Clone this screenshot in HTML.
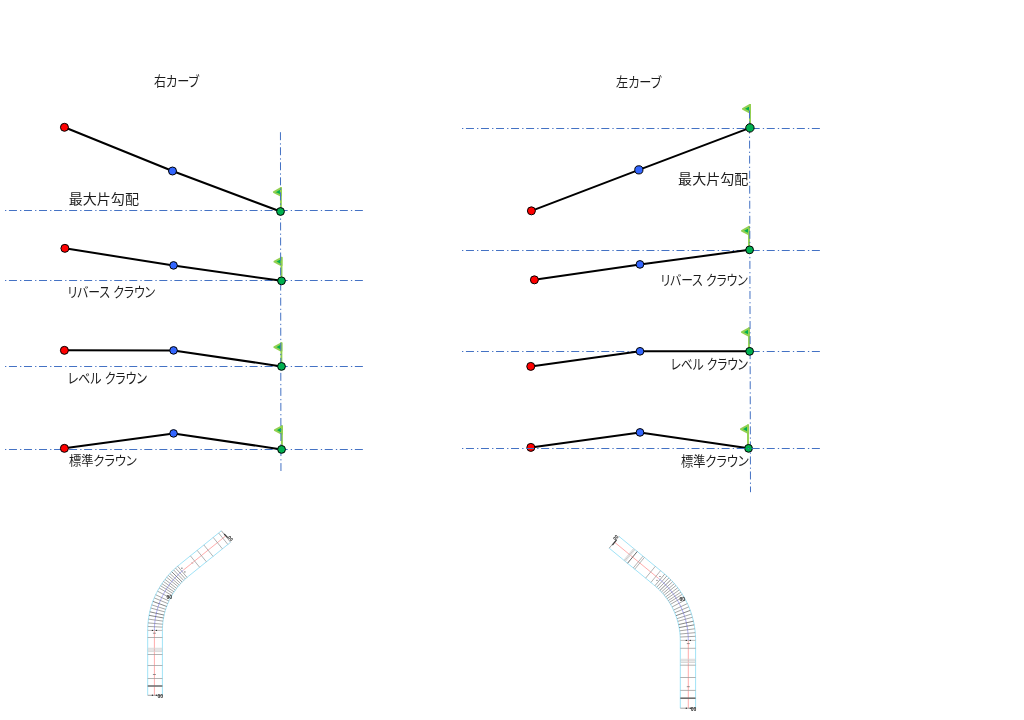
<!DOCTYPE html>
<html><head><meta charset="utf-8"><style>
html,body{margin:0;padding:0;background:#fff;width:1024px;height:720px;overflow:hidden}
svg{display:block}
text{font-family:"Liberation Sans","Noto Sans CJK JP",sans-serif;fill:#1c1c1c;font-feature-settings:"palt"}
</style></head><body>
<svg width="1024" height="720" viewBox="0 0 1024 720">
<rect width="1024" height="720" fill="#fff"/>
<text x="153.9" y="85.74" font-size="13.08" textLength="45.19" lengthAdjust="spacingAndGlyphs">右カーブ</text>
<text x="616.08" y="86.94" font-size="13.51" textLength="45.15" lengthAdjust="spacingAndGlyphs">左カーブ</text>
<text x="68.72" y="203.52" font-size="13.14" textLength="70.22" lengthAdjust="spacingAndGlyphs">最大片勾配</text>
<text x="67.52" y="296.88" font-size="13.93" textLength="87.68" lengthAdjust="spacingAndGlyphs">リバース クラウン</text>
<text x="67.7" y="382.62" font-size="14.03" textLength="79.35" lengthAdjust="spacingAndGlyphs">レベル クラウン</text>
<text x="68.9" y="465.2" font-size="12.8" textLength="67.95" lengthAdjust="spacingAndGlyphs">標準クラウン</text>
<text x="678.08" y="183.52" font-size="13.14" textLength="70.24" lengthAdjust="spacingAndGlyphs">最大片勾配</text>
<text x="660.52" y="285.4" font-size="13.79" textLength="87.21" lengthAdjust="spacingAndGlyphs">リバース クラウン</text>
<text x="670.8" y="368.98" font-size="14.17" textLength="77.23" lengthAdjust="spacingAndGlyphs">レベル クラウン</text>
<text x="681.0" y="465.74" font-size="13.24" textLength="67.92" lengthAdjust="spacingAndGlyphs">標準クラウン</text>
<line x1="5" y1="210.5" x2="363" y2="210.5" stroke="#4472c4" stroke-width="1" stroke-dasharray="8.0 3.1 1.3 2.64" stroke-dashoffset="11.1"/>
<line x1="5" y1="280.5" x2="363" y2="280.5" stroke="#4472c4" stroke-width="1" stroke-dasharray="8.0 3.1 1.3 2.64" stroke-dashoffset="11.1"/>
<line x1="5" y1="366.5" x2="363" y2="366.5" stroke="#4472c4" stroke-width="1" stroke-dasharray="8.0 3.1 1.3 2.64" stroke-dashoffset="11.1"/>
<line x1="5" y1="449.5" x2="363" y2="449.5" stroke="#4472c4" stroke-width="1" stroke-dasharray="8.0 3.1 1.3 2.64" stroke-dashoffset="11.1"/>
<polyline points="64.45,127.3 172.5,171 280.5,211.5" fill="none" stroke="#000" stroke-width="2" stroke-linejoin="round"/>
<polyline points="64.9,248.35 173.55,265.4 281.5,280.85" fill="none" stroke="#000" stroke-width="2" stroke-linejoin="round"/>
<polyline points="64.4,350.35 173.55,350.4 281.5,366.4" fill="none" stroke="#000" stroke-width="2" stroke-linejoin="round"/>
<polyline points="64.4,448.35 173.55,433.4 281.55,449.4" fill="none" stroke="#000" stroke-width="2" stroke-linejoin="round"/>
<line x1="280.9" y1="187.25" x2="280.9" y2="208.5" stroke="#92d050" stroke-width="1.9"/>
<polygon points="280.9,188.1 273.9,192.05 280.9,195.65" fill="#00b050" stroke="#92d050" stroke-width="2" stroke-linejoin="round"/>
<line x1="281.5" y1="256.9" x2="281.5" y2="277.85" stroke="#92d050" stroke-width="1.9"/>
<polygon points="281.5,257.75 274.5,261.7 281.5,265.29999999999995" fill="#00b050" stroke="#92d050" stroke-width="2" stroke-linejoin="round"/>
<line x1="281.4" y1="342.4" x2="281.4" y2="363.4" stroke="#92d050" stroke-width="1.9"/>
<polygon points="281.4,343.25 274.4,347.2 281.4,350.79999999999995" fill="#00b050" stroke="#92d050" stroke-width="2" stroke-linejoin="round"/>
<line x1="281.9" y1="425.4" x2="281.9" y2="446.4" stroke="#92d050" stroke-width="1.9"/>
<polygon points="281.9,426.25 274.9,430.2 281.9,433.79999999999995" fill="#00b050" stroke="#92d050" stroke-width="2" stroke-linejoin="round"/>
<line x1="280.45" y1="132.2" x2="280.95" y2="471" stroke="#4472c4" stroke-width="1" stroke-dasharray="8.0 3.1 1.3 2.64" stroke-dashoffset="0"/>
<circle cx="64.45" cy="127.3" r="4.0" fill="#ff0000" stroke="#000" stroke-width="1"/>
<circle cx="172.5" cy="171" r="4.0" fill="#3366ff" stroke="#000" stroke-width="1"/>
<circle cx="280.5" cy="211.5" r="3.9" fill="#00b050" stroke="#000" stroke-width="1"/>
<circle cx="64.9" cy="248.35" r="4.0" fill="#ff0000" stroke="#000" stroke-width="1"/>
<circle cx="173.55" cy="265.4" r="3.8" fill="#3366ff" stroke="#000" stroke-width="1"/>
<circle cx="281.5" cy="280.85" r="3.9" fill="#00b050" stroke="#000" stroke-width="1"/>
<circle cx="64.4" cy="350.35" r="4.0" fill="#ff0000" stroke="#000" stroke-width="1"/>
<circle cx="173.55" cy="350.4" r="3.8" fill="#3366ff" stroke="#000" stroke-width="1"/>
<circle cx="281.5" cy="366.4" r="3.9" fill="#00b050" stroke="#000" stroke-width="1"/>
<circle cx="64.4" cy="448.35" r="4.0" fill="#ff0000" stroke="#000" stroke-width="1"/>
<circle cx="173.55" cy="433.4" r="3.8" fill="#3366ff" stroke="#000" stroke-width="1"/>
<circle cx="281.55" cy="449.4" r="3.9" fill="#00b050" stroke="#000" stroke-width="1"/>
<line x1="462" y1="128.5" x2="820" y2="128.5" stroke="#4472c4" stroke-width="1" stroke-dasharray="8.0 3.1 1.3 2.64" stroke-dashoffset="11.1"/>
<line x1="462" y1="250.5" x2="820" y2="250.5" stroke="#4472c4" stroke-width="1" stroke-dasharray="8.0 3.1 1.3 2.64" stroke-dashoffset="11.1"/>
<line x1="462" y1="351.5" x2="820" y2="351.5" stroke="#4472c4" stroke-width="1" stroke-dasharray="8.0 3.1 1.3 2.64" stroke-dashoffset="11.1"/>
<polyline points="531.4,210.85 638.85,169.85 749.9,127.9" fill="none" stroke="#000" stroke-width="2" stroke-linejoin="round"/>
<polyline points="534.4,279.85 639.95,264.4 749.6,249.85" fill="none" stroke="#000" stroke-width="2" stroke-linejoin="round"/>
<polyline points="530.75,366.4 640,351.3 749.6,351.35" fill="none" stroke="#000" stroke-width="2" stroke-linejoin="round"/>
<polyline points="530.85,447.4 640,432.4 748.55,448.35" fill="none" stroke="#000" stroke-width="2" stroke-linejoin="round"/>
<line x1="750.0" y1="104.1" x2="750.0" y2="124.9" stroke="#92d050" stroke-width="1.9"/>
<polygon points="750.0,104.94999999999999 743.0,108.89999999999999 750.0,112.5" fill="#00b050" stroke="#92d050" stroke-width="2" stroke-linejoin="round"/>
<line x1="749.0" y1="226.0" x2="749.0" y2="246.85" stroke="#92d050" stroke-width="1.9"/>
<polygon points="749.0,226.85 742.0,230.8 749.0,234.4" fill="#00b050" stroke="#92d050" stroke-width="2" stroke-linejoin="round"/>
<line x1="749.0" y1="327.4" x2="749.0" y2="348.35" stroke="#92d050" stroke-width="1.9"/>
<polygon points="749.0,328.25 742.0,332.2 749.0,335.79999999999995" fill="#00b050" stroke="#92d050" stroke-width="2" stroke-linejoin="round"/>
<line x1="748.0" y1="424.4" x2="748.0" y2="445.35" stroke="#92d050" stroke-width="1.9"/>
<polygon points="748.0,425.25 741.0,429.2 748.0,432.79999999999995" fill="#00b050" stroke="#92d050" stroke-width="2" stroke-linejoin="round"/>
<line x1="749.5" y1="110.5" x2="750.5" y2="492.2" stroke="#4472c4" stroke-width="1" stroke-dasharray="8.0 3.1 1.3 2.64" stroke-dashoffset="0"/>
<circle cx="531.4" cy="210.85" r="4.0" fill="#ff0000" stroke="#000" stroke-width="1"/>
<circle cx="638.85" cy="169.85" r="4.1" fill="#3366ff" stroke="#000" stroke-width="1"/>
<circle cx="749.9" cy="127.9" r="4.2" fill="#00b050" stroke="#000" stroke-width="1"/>
<circle cx="534.4" cy="279.85" r="4.0" fill="#ff0000" stroke="#000" stroke-width="1"/>
<circle cx="639.95" cy="264.4" r="3.85" fill="#3366ff" stroke="#000" stroke-width="1"/>
<circle cx="749.6" cy="249.85" r="3.9" fill="#00b050" stroke="#000" stroke-width="1"/>
<circle cx="530.75" cy="366.4" r="4.0" fill="#ff0000" stroke="#000" stroke-width="1"/>
<circle cx="640" cy="351.3" r="3.85" fill="#3366ff" stroke="#000" stroke-width="1"/>
<circle cx="749.6" cy="351.35" r="3.9" fill="#00b050" stroke="#000" stroke-width="1"/>
<circle cx="530.85" cy="447.4" r="4.0" fill="#ff0000" stroke="#000" stroke-width="1"/>
<circle cx="640" cy="432.4" r="3.85" fill="#3366ff" stroke="#000" stroke-width="1"/>
<circle cx="748.55" cy="448.35" r="3.9" fill="#00b050" stroke="#000" stroke-width="1"/>
<line x1="462" y1="448.5" x2="820" y2="448.5" stroke="#4472c4" stroke-width="1" stroke-dasharray="8.0 3.1 1.3 2.64" stroke-dashoffset="11.1"/>
<polyline points="154.40,695.30 154.40,630.40" fill="none" stroke="#ffacac" stroke-width="1"/>
<polyline points="154.40,630.40 154.42,628.67 154.48,626.94 154.57,625.21 154.71,623.49 154.88,621.77 155.10,620.05 155.35,618.34 155.64,616.63 155.97,614.93 156.33,613.24 156.73,611.56 157.18,609.88 157.65,608.22 158.17,606.57 158.72,604.93 159.31,603.30 159.94,601.69 160.60,600.09 161.30,598.51 162.03,596.94 162.80,595.39 163.60,593.86 164.43,592.34 165.30,590.84 166.21,589.37 167.14,587.91 168.11,586.48 169.11,585.07 170.14,583.68 171.21,582.31 172.30,580.97 173.42,579.65 174.57,578.36 175.75,577.10 176.96,575.86 178.20,574.65 179.46,573.47 180.75,572.31 182.07,571.19 183.40,570.09" fill="none" stroke="#a9a9f8" stroke-width="1"/>
<polyline points="183.40,570.09 225.60,536.00" fill="none" stroke="#ffacac" stroke-width="1"/>
<polyline points="147.70,695.30 147.70,630.40 147.72,628.52 147.78,626.64 147.89,624.76 148.04,622.89 148.23,621.02 148.46,619.15 148.73,617.29 149.05,615.44 149.40,613.59 149.80,611.75 150.24,609.92 150.72,608.10 151.24,606.30 151.80,604.50 152.40,602.72 153.04,600.95 153.72,599.20 154.44,597.46 155.19,595.74 155.99,594.04 156.82,592.35 157.70,590.68 158.60,589.04 159.55,587.41 160.53,585.81 161.55,584.23 162.60,582.67 163.69,581.13 164.81,579.62 165.96,578.14 167.15,576.68 168.37,575.25 169.62,573.85 170.91,572.47 172.22,571.13 173.56,569.81 174.94,568.53 176.34,567.27 177.77,566.05 179.22,564.86 221.39,530.79" fill="none" stroke="#a0e3f7" stroke-width="1"/>
<polyline points="162.40,695.30 162.40,630.40 162.42,628.85 162.47,627.30 162.56,625.75 162.68,624.20 162.83,622.66 163.02,621.12 163.25,619.59 163.51,618.06 163.80,616.53 164.13,615.02 164.49,613.51 164.89,612.01 165.32,610.52 165.78,609.04 166.27,607.57 166.80,606.11 167.36,604.67 167.96,603.23 168.58,601.81 169.24,600.41 169.93,599.02 170.64,597.64 171.39,596.28 172.17,594.94 172.98,593.62 173.82,592.32 174.69,591.03 175.59,589.77 176.51,588.52 177.46,587.30 178.44,586.09 179.45,584.91 180.48,583.76 181.54,582.62 182.62,581.51 183.73,580.43 184.86,579.37 186.02,578.33 187.20,577.32 188.40,576.34 230.63,542.22" fill="none" stroke="#a0e3f7" stroke-width="1"/>
<line x1="147.70" y1="686.00" x2="162.40" y2="686.00" stroke="#707070" stroke-width="1.6"/><line x1="147.70" y1="678.50" x2="162.40" y2="678.50" stroke="#9a9a9a" stroke-width="0.75"/><line x1="147.70" y1="665.50" x2="162.40" y2="665.50" stroke="#9a9a9a" stroke-width="0.75"/><line x1="147.70" y1="654.50" x2="162.40" y2="654.50" stroke="#9a9a9a" stroke-width="0.75"/><line x1="147.70" y1="651.60" x2="162.40" y2="651.60" stroke="#cfcfcf" stroke-width="0.8"/><line x1="147.70" y1="650.00" x2="162.40" y2="650.00" stroke="#bdbdbd" stroke-width="0.8"/><line x1="147.70" y1="648.30" x2="162.40" y2="648.30" stroke="#cfcfcf" stroke-width="0.8"/><line x1="147.70" y1="637.50" x2="162.40" y2="637.50" stroke="#9a9a9a" stroke-width="0.75"/><line x1="152.90" y1="674.50" x2="155.90" y2="674.50" stroke="#777" stroke-width="0.8"/><line x1="152.90" y1="633.20" x2="155.90" y2="633.20" stroke="#777" stroke-width="0.8"/><line x1="147.70" y1="630.40" x2="162.40" y2="630.40" stroke="#aaa" stroke-width="0.8"/><line x1="190.40" y1="555.83" x2="199.63" y2="567.26" stroke="#9a9a9a" stroke-width="0.75"/><line x1="197.16" y1="550.36" x2="206.40" y2="561.80" stroke="#9a9a9a" stroke-width="0.75"/><line x1="203.85" y1="544.96" x2="213.09" y2="556.39" stroke="#9a9a9a" stroke-width="0.75"/><line x1="213.19" y1="537.42" x2="222.42" y2="548.85" stroke="#9a9a9a" stroke-width="0.75"/><line x1="218.63" y1="533.02" x2="227.87" y2="544.45" stroke="#9a9a9a" stroke-width="0.75"/><line x1="191.52" y1="561.99" x2="193.03" y2="563.86" stroke="#999" stroke-width="0.6"/><line x1="147.79" y1="626.43" x2="162.48" y2="627.13" stroke="#888888" stroke-width="0.75"/><line x1="148.04" y1="622.90" x2="162.68" y2="624.21" stroke="#888888" stroke-width="0.75"/><line x1="148.46" y1="619.15" x2="163.02" y2="621.12" stroke="#888888" stroke-width="0.75"/><line x1="149.06" y1="615.34" x2="163.52" y2="617.98" stroke="#5e5e5e" stroke-width="0.75"/><line x1="149.79" y1="611.81" x2="164.12" y2="615.07" stroke="#5e5e5e" stroke-width="0.75"/><line x1="150.74" y1="608.01" x2="164.91" y2="611.94" stroke="#888888" stroke-width="0.75"/><line x1="151.68" y1="604.86" x2="165.68" y2="609.33" stroke="#888888" stroke-width="0.75"/><line x1="152.88" y1="601.38" x2="166.67" y2="606.46" stroke="#5e5e5e" stroke-width="0.75"/><line x1="154.25" y1="597.90" x2="167.80" y2="603.59" stroke="#888888" stroke-width="0.75"/><line x1="155.65" y1="594.75" x2="168.96" y2="601.00" stroke="#888888" stroke-width="0.75"/><line x1="157.46" y1="591.13" x2="170.45" y2="598.01" stroke="#888888" stroke-width="0.75"/><line x1="159.20" y1="588.00" x2="171.89" y2="595.43" stroke="#888888" stroke-width="0.75"/><line x1="160.58" y1="585.73" x2="173.02" y2="593.56" stroke="#888888" stroke-width="0.75"/><line x1="161.92" y1="583.67" x2="174.12" y2="591.86" stroke="#888888" stroke-width="0.75"/><line x1="163.44" y1="581.48" x2="175.38" y2="590.05" stroke="#888888" stroke-width="0.75"/><line x1="164.97" y1="579.42" x2="176.64" y2="588.35" stroke="#888888" stroke-width="0.75"/><line x1="166.67" y1="577.26" x2="178.05" y2="586.57" stroke="#888888" stroke-width="0.75"/><line x1="168.23" y1="575.42" x2="179.33" y2="585.05" stroke="#888888" stroke-width="0.75"/><line x1="169.89" y1="573.55" x2="180.71" y2="583.51" stroke="#888888" stroke-width="0.75"/><line x1="171.66" y1="571.69" x2="182.16" y2="581.98" stroke="#5e5e5e" stroke-width="0.75"/><line x1="173.52" y1="569.85" x2="183.70" y2="580.46" stroke="#888888" stroke-width="0.75"/><line x1="175.50" y1="568.02" x2="185.33" y2="578.95" stroke="#888888" stroke-width="0.75"/><line x1="177.59" y1="566.20" x2="187.05" y2="577.45" stroke="#888888" stroke-width="0.75"/>
<line x1="147.70" y1="695.30" x2="162.40" y2="695.30" stroke="#8c8c8c" stroke-width="0.8"/>
<line x1="221.39" y1="530.79" x2="230.63" y2="542.22" stroke="#8c8c8c" stroke-width="0.8"/>
<circle cx="152.40" cy="695.30" r="0.7" fill="#333"/>
<circle cx="156.40" cy="695.30" r="0.7" fill="#333"/>
<circle cx="152.40" cy="630.40" r="0.7" fill="#333"/>
<circle cx="156.40" cy="630.40" r="0.7" fill="#333"/>
<circle cx="181.91" cy="568.22" r="0.6" fill="#444"/>
<circle cx="184.90" cy="571.97" r="0.6" fill="#444"/>
<polyline points="688.30,708.20 688.30,640.40" fill="none" stroke="#ffacac" stroke-width="1"/>
<polyline points="688.30,640.40 688.28,638.62 688.22,636.84 688.12,635.07 687.98,633.29 687.80,631.52 687.58,629.76 687.33,628.00 687.03,626.24 686.69,624.50 686.32,622.76 685.90,621.03 685.45,619.31 684.96,617.60 684.43,615.90 683.86,614.21 683.25,612.54 682.61,610.88 681.93,609.24 681.21,607.61 680.46,606.00 679.67,604.40 678.85,602.83 677.99,601.27 677.09,599.73 676.17,598.21 675.20,596.72 674.21,595.24 673.18,593.79 672.12,592.36 671.03,590.96 669.91,589.58 668.75,588.23 667.57,586.90 666.35,585.60 665.11,584.32 663.84,583.08 662.54,581.86 661.22,580.67 659.87,579.52 658.49,578.39" fill="none" stroke="#a9a9f8" stroke-width="1"/>
<polyline points="658.49,578.39 614.30,542.00" fill="none" stroke="#ffacac" stroke-width="1"/>
<polyline points="680.30,708.20 680.30,640.40 680.28,638.80 680.23,637.20 680.14,635.60 680.01,634.01 679.85,632.42 679.66,630.83 679.42,629.25 679.16,627.67 678.85,626.10 678.52,624.54 678.14,622.98 677.73,621.43 677.29,619.90 676.82,618.37 676.31,616.85 675.76,615.35 675.18,613.86 674.57,612.38 673.93,610.91 673.25,609.46 672.54,608.03 671.80,606.61 671.03,605.21 670.22,603.83 669.39,602.46 668.52,601.12 667.63,599.79 666.70,598.49 665.75,597.20 664.77,595.94 663.76,594.70 662.72,593.48 661.66,592.29 660.57,591.12 659.45,589.97 658.31,588.85 657.14,587.76 655.95,586.69 654.73,585.65 653.49,584.64 609.21,548.18" fill="none" stroke="#a0e3f7" stroke-width="1"/>
<polyline points="695.60,708.20 695.60,640.40 695.58,638.46 695.51,636.52 695.40,634.58 695.25,632.64 695.06,630.71 694.82,628.78 694.54,626.86 694.21,624.94 693.84,623.04 693.43,621.14 692.98,619.25 692.49,617.37 691.95,615.50 691.37,613.65 690.75,611.81 690.09,609.98 689.39,608.17 688.64,606.37 687.86,604.60 687.04,602.84 686.18,601.09 685.28,599.37 684.34,597.67 683.36,595.99 682.35,594.34 681.30,592.70 680.21,591.09 679.09,589.51 677.93,587.95 676.74,586.41 675.51,584.91 674.25,583.43 672.96,581.98 671.64,580.56 670.28,579.17 668.89,577.81 667.48,576.48 666.03,575.18 664.55,573.92 663.05,572.69 618.94,536.36" fill="none" stroke="#a0e3f7" stroke-width="1"/>
<line x1="680.30" y1="698.20" x2="695.60" y2="698.20" stroke="#707070" stroke-width="1.6"/><line x1="680.30" y1="690.40" x2="695.60" y2="690.40" stroke="#9a9a9a" stroke-width="0.75"/><line x1="680.30" y1="677.50" x2="695.60" y2="677.50" stroke="#9a9a9a" stroke-width="0.75"/><line x1="680.30" y1="665.20" x2="695.60" y2="665.20" stroke="#9a9a9a" stroke-width="0.75"/><line x1="680.30" y1="662.50" x2="695.60" y2="662.50" stroke="#cfcfcf" stroke-width="0.8"/><line x1="680.30" y1="660.90" x2="695.60" y2="660.90" stroke="#bdbdbd" stroke-width="0.8"/><line x1="680.30" y1="659.30" x2="695.60" y2="659.30" stroke="#cfcfcf" stroke-width="0.8"/><line x1="680.30" y1="648.30" x2="695.60" y2="648.30" stroke="#9a9a9a" stroke-width="0.75"/><line x1="686.80" y1="686.70" x2="689.80" y2="686.70" stroke="#777" stroke-width="0.8"/><line x1="686.80" y1="643.60" x2="689.80" y2="643.60" stroke="#777" stroke-width="0.8"/><line x1="680.30" y1="640.40" x2="695.60" y2="640.40" stroke="#aaa" stroke-width="0.8"/><line x1="650.86" y1="582.47" x2="660.58" y2="570.66" stroke="#9a9a9a" stroke-width="0.75"/><line x1="645.61" y1="578.15" x2="655.33" y2="566.33" stroke="#9a9a9a" stroke-width="0.75"/><line x1="634.72" y1="569.18" x2="644.45" y2="557.37" stroke="#9a9a9a" stroke-width="0.75"/><line x1="633.26" y1="567.97" x2="642.98" y2="556.16" stroke="#9a9a9a" stroke-width="0.75"/><line x1="627.54" y1="563.27" x2="637.27" y2="551.46" stroke="#6a6a6a" stroke-width="1.0"/><line x1="625.38" y1="561.49" x2="635.11" y2="549.68" stroke="#cfcfcf" stroke-width="0.8"/><line x1="624.61" y1="560.85" x2="634.34" y2="549.04" stroke="#bdbdbd" stroke-width="0.8"/><line x1="623.84" y1="560.22" x2="633.57" y2="548.41" stroke="#cfcfcf" stroke-width="0.8"/><line x1="680.22" y1="637.03" x2="695.50" y2="636.30" stroke="#888888" stroke-width="0.75"/><line x1="680.01" y1="634.02" x2="695.25" y2="632.65" stroke="#888888" stroke-width="0.75"/><line x1="679.66" y1="630.83" x2="694.82" y2="628.78" stroke="#888888" stroke-width="0.75"/><line x1="679.14" y1="627.59" x2="694.19" y2="624.85" stroke="#5e5e5e" stroke-width="0.75"/><line x1="678.53" y1="624.58" x2="693.45" y2="621.20" stroke="#5e5e5e" stroke-width="0.75"/><line x1="677.71" y1="621.36" x2="692.46" y2="617.28" stroke="#888888" stroke-width="0.75"/><line x1="676.91" y1="618.67" x2="691.49" y2="614.02" stroke="#888888" stroke-width="0.75"/><line x1="675.89" y1="615.71" x2="690.25" y2="610.42" stroke="#5e5e5e" stroke-width="0.75"/><line x1="674.73" y1="612.75" x2="688.84" y2="606.83" stroke="#888888" stroke-width="0.75"/><line x1="673.54" y1="610.07" x2="687.39" y2="603.57" stroke="#888888" stroke-width="0.75"/><line x1="672.00" y1="607.00" x2="685.53" y2="599.84" stroke="#888888" stroke-width="0.75"/><line x1="670.52" y1="604.33" x2="683.72" y2="596.60" stroke="#888888" stroke-width="0.75"/><line x1="669.35" y1="602.40" x2="682.30" y2="594.26" stroke="#888888" stroke-width="0.75"/><line x1="668.21" y1="600.65" x2="680.92" y2="592.13" stroke="#888888" stroke-width="0.75"/><line x1="666.92" y1="598.78" x2="679.35" y2="589.86" stroke="#888888" stroke-width="0.75"/><line x1="665.62" y1="597.03" x2="677.77" y2="587.73" stroke="#888888" stroke-width="0.75"/><line x1="664.17" y1="595.19" x2="676.01" y2="585.51" stroke="#888888" stroke-width="0.75"/><line x1="662.84" y1="593.62" x2="674.40" y2="583.60" stroke="#888888" stroke-width="0.75"/><line x1="661.43" y1="592.04" x2="672.68" y2="581.67" stroke="#888888" stroke-width="0.75"/><line x1="659.92" y1="590.46" x2="670.86" y2="579.75" stroke="#5e5e5e" stroke-width="0.75"/><line x1="658.34" y1="588.89" x2="668.94" y2="577.85" stroke="#888888" stroke-width="0.75"/><line x1="656.66" y1="587.33" x2="666.90" y2="575.95" stroke="#888888" stroke-width="0.75"/><line x1="654.88" y1="585.78" x2="664.74" y2="574.07" stroke="#888888" stroke-width="0.75"/>
<line x1="680.30" y1="708.20" x2="695.60" y2="708.20" stroke="#8c8c8c" stroke-width="0.8"/>
<line x1="609.21" y1="548.18" x2="618.94" y2="536.36" stroke="#8c8c8c" stroke-width="0.8"/>
<circle cx="686.30" cy="708.20" r="0.7" fill="#333"/>
<circle cx="690.30" cy="708.20" r="0.7" fill="#333"/>
<circle cx="686.30" cy="640.40" r="0.7" fill="#333"/>
<circle cx="690.30" cy="640.40" r="0.7" fill="#333"/>
<circle cx="656.99" cy="580.26" r="0.6" fill="#444"/>
<circle cx="659.99" cy="576.52" r="0.6" fill="#444"/>
<text x="157.6" y="698" font-size="5" font-weight="bold" style="fill:#222">00</text>
<text x="690.8" y="710.6" font-size="5" font-weight="bold" style="fill:#222">00</text>
<text x="166.5" y="598.5" font-size="5" font-weight="bold" style="fill:#222">00</text>
<text x="679.5" y="600.5" font-size="5" font-weight="bold" style="fill:#222">00</text>
<line x1="224.2" y1="534" x2="227.8" y2="537.7" stroke="#333" stroke-width="1.1"/>
<text x="0" y="0" font-size="4.6" font-weight="bold" transform="translate(227.6,537.6) rotate(48)" style="fill:#222">00</text>
<line x1="612.4" y1="545.2" x2="616.6" y2="540" stroke="#333" stroke-width="1.1"/>
<text x="0" y="0" font-size="4.6" font-weight="bold" transform="translate(615.2,540.6) rotate(-51)" style="fill:#222">00</text>
</svg>
</body></html>
